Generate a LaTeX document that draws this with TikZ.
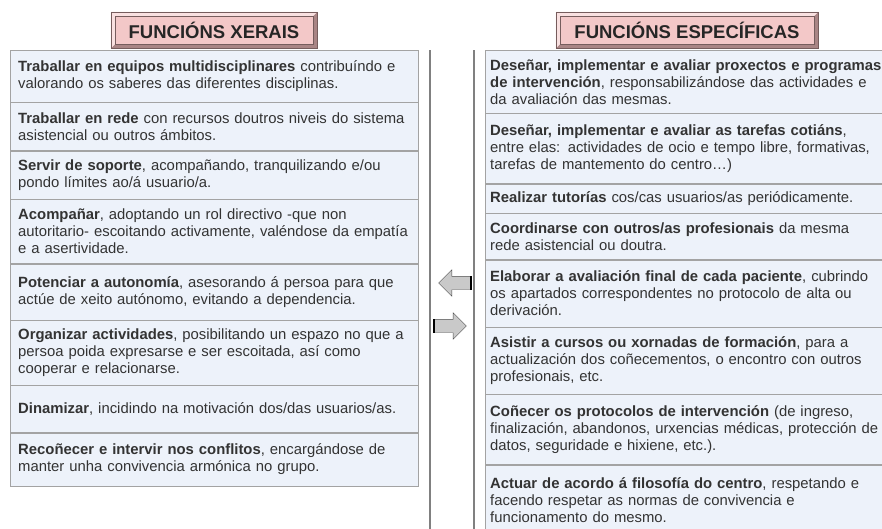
\documentclass[tikz,border=0pt]{standalone}
\usepackage{fontspec}
\setmainfont{Liberation Sans}
\usetikzlibrary{positioning,shapes.arrows}

\definecolor{boxfill}{HTML}{EDF2FA}
\definecolor{boxline}{HTML}{A3A3A3}
\definecolor{headfill}{HTML}{F3C8C8}
\definecolor{headdark}{HTML}{A98585}
\definecolor{headlight}{HTML}{F9E1E1}
\definecolor{txt}{HTML}{333333}
\definecolor{arrfill}{HTML}{C9C9C9}

\begin{document}
\begin{tikzpicture}[x=1pt, y=1pt,
    lbox/.style={draw=boxline, fill=boxfill, text=txt, anchor=north west,
        text width=392pt, inner xsep=8pt, inner ysep=0pt, align=left,
        font=\fontsize{14.85}{17}\selectfont},
    rbox/.style={lbox, text width=400pt, inner xsep=5pt},
    headbox/.style={fill=headfill, minimum height=36, inner sep=0pt,
        font=\fontsize{18.5}{20}\selectfont\bfseries, text=black!85},
    sepline/.style={draw=black!50, line width=2.5pt},
    blockarrow/.style={single arrow, draw=black!70, fill=arrfill,
        inner xsep=0pt, inner ysep=6.5pt, minimum height=32,
        single arrow head extend=6.5pt, single arrow head indent=0pt}
]
    \useasboundingbox (0,0) rectangle (882,-528);

    \node[headbox, minimum width=206] (hxer) at (214,-30) {FUNCIÓNS XERAIS};
    \node[headbox, minimum width=262] (hesp) at (687,-30) {FUNCIÓNS ESPECÍFICAS};
    \foreach \h in {hxer,hesp} {
        \fill[headdark] (\h.south west) -- (\h.south east) -- (\h.north east)
            -- ([shift={(-4,-4)}]\h.north east) -- ([shift={(-4,4)}]\h.south east)
            -- ([shift={(4,4)}]\h.south west) -- cycle;
        \fill[headlight] (\h.south west) -- (\h.north west) -- (\h.north east)
            -- ([shift={(-4,-4)}]\h.north east) -- ([shift={(4,-4)}]\h.north west)
            -- ([shift={(4,4)}]\h.south west) -- cycle;
        \draw[headdark!70!black] ([shift={(4,4)}]\h.south west) rectangle ([shift={(-4,-4)}]\h.north east);
        \draw[headdark!70!black] (\h.south west) rectangle (\h.north east);
    }

    \node[lbox, minimum height=52] (l1) at (10,-50) {\textbf{Traballar en equipos multidisciplinares} contribuíndo e\\ valorando os saberes das diferentes disciplinas.};
    \node[lbox, minimum height=48, below=0pt of l1] (l2) {\textbf{Traballar en rede} con recursos doutros niveis do sistema\\ asistencial ou outros ámbitos.};
    \node[lbox, minimum height=48, below=0pt of l2] (l3) {\textbf{Servir de soporte}, acompañando, tranquilizando e/ou\\ pondo límites ao/á usuario/a.};
    \node[lbox, minimum height=64, below=0pt of l3] (l4) {\textbf{Acompañar}, adoptando un rol directivo -que non\\ autoritario- escoitando activamente, valéndose da empatía\\ e a asertividade.};
    \node[lbox, minimum height=56, below=0pt of l4] (l5) {\textbf{Potenciar a autonomía}, asesorando á persoa para que\\ actúe de xeito autónomo, evitando a dependencia.};
    \node[lbox, minimum height=65, below=0pt of l5] (l6) {\textbf{Organizar actividades}, posibilitando un espazo no que a\\ persoa poida expresarse e ser escoitada, así como\\ cooperar e relacionarse.};
    \node[lbox, minimum height=47, below=0pt of l6] (l7) {\textbf{Dinamizar}, incidindo na motivación dos/das usuarios/as.};
    \node[lbox, minimum height=53, below=0pt of l7] (l8) {\textbf{Recoñecer e intervir nos conflitos}, encargándose de\\ manter unha convivencia armónica no grupo.};

    \node[rbox, minimum height=63] (r1) at (485,-50) {\textbf{Deseñar, implementar e avaliar proxectos e programas}\\ \textbf{de intervención}, responsabilizándose das actividades e\\ da avaliación das mesmas.};
    \node[rbox, minimum height=70, below=0pt of r1] (r2) {\textbf{Deseñar, implementar e avaliar as tarefas cotiáns},\\ entre elas: actividades de ocio e tempo libre, formativas,\\ tarefas de mantemento do centro…)};
    \node[rbox, minimum height=29, below=0pt of r2] (r3) {\textbf{Realizar tutorías} cos/cas usuarios/as periódicamente.};
    \node[rbox, minimum height=46, below=0pt of r3] (r4) {\textbf{Coordinarse con outros/as profesionais} da mesma\\ rede asistencial ou doutra.};
    \node[rbox, minimum height=67, below=0pt of r4] (r5) {\textbf{Elaborar a avaliación final de cada paciente}, cubrindo\\ os apartados correspondentes no protocolo de alta ou\\ derivación.};
    \node[rbox, minimum height=67, below=0pt of r5] (r6) {\textbf{Asistir a cursos ou xornadas de formación}, para a\\ actualización dos coñecementos, o encontro con outros\\ profesionais, etc.};
    \node[rbox, minimum height=70, below=0pt of r6] (r7) {\textbf{Coñecer os protocolos de intervención} (de ingreso,\\ finalización, abandonos, urxencias médicas, protección de\\ datos, seguridade e hixiene, etc.).};
    \node[rbox, minimum height=70, below=0pt of r7] (r8) {\textbf{Actuar de acordo á filosofía do centro}, respetando e\\ facendo respetar as normas de convivencia e\\ funcionamento do mesmo.};

    \draw[sepline] (430,-50) -- (430,-530);
    \draw[sepline] (474,-50) -- (474,-530);

    \node[blockarrow, shape border rotate=180] (back) at (458,-283) {};
    \node[blockarrow] (fwd) at (447,-326) {};
    \draw[line width=2pt] (back.before tail) -- (back.after tail);
    \draw[line width=2pt] (fwd.before tail) -- (fwd.after tail);
\end{tikzpicture}
\end{document}
